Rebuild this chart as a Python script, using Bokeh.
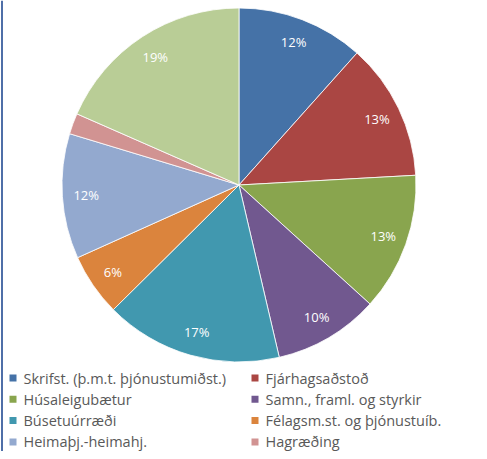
import numpy as np
from bokeh.plotting import figure
from bokeh.models import Range1d, ColumnDataSource
from bokeh.embed import file_html
from bokeh.resources import INLINE
from bokeh.core.properties import value

# ---- data (shares in %, clockwise from 12 o'clock) ----
categories = [
    "Skrifst. (þ.m.t. þjónustumiðst.)",
    "Fjárhagsaðstoð",
    "Húsaleigubætur",
    "Samn., framl. og styrkir",
    "Búsetuúrræði",
    "Félagsm.st. og þjónustuíb.",
    "Heimaþj.-heimahj.",
    "Hagræðing",
    "Annað",
]
shares = [11.6, 12.5, 12.6, 9.6, 16.2, 5.7, 11.4, 1.9, 18.4]
pct_labels = ["12%", "13%", "13%", "10%", "17%", "6%", "12%", "", "19%"]
colors = ["#4572A7", "#AA4643", "#89A54E", "#71588F", "#4198AF",
          "#DB843D", "#93A9CF", "#D19392", "#B9CD96"]
legend_count = 8  # last slice has no visible legend entry

# ---- layout constants (pixels) ----
PW, PH = 479, 451
CX, CY, R = 238.5, 184.5, 177.0
LABEL_R = 0.865 * R

def Y(py):
    return PH - py

p = figure(width=PW, height=PH, output_backend="svg",
           toolbar_location=None,
           x_range=Range1d(0, PW), y_range=Range1d(0, PH),
           x_axis_type=None, y_axis_type=None, min_border=0,
           outline_line_color=None, background_fill_color="white",
           border_fill_color="white")
p.grid.visible = False

vals = np.array(shares, dtype=float)
frac = vals / vals.sum()
cum_after = np.cumsum(frac)
cum_before = cum_after - frac
start = np.pi / 2 - 2 * np.pi * cum_after
end = np.pi / 2 - 2 * np.pi * cum_before
mid = (start + end) / 2

src = ColumnDataSource(dict(
    x=[CX] * len(vals), y=[Y(CY)] * len(vals),
    start=start, end=end, color=colors,
    lx=CX + LABEL_R * np.cos(mid), ly=Y(CY) + LABEL_R * np.sin(mid),
    label=pct_labels,
))
p.wedge(x="x", y="y", radius=R, start_angle="start", end_angle="end",
        direction="anticlock", fill_color="color", line_color="white",
        line_width=1, line_alpha=0.8, source=src)
p.text(x="lx", y="ly", text="label", text_align="center",
       text_baseline="middle", text_color="white",
       text_font=value("Open Sans"), text_font_size="13px", source=src)

# ---- legend (2 columns x 4 rows) ----
col_x = [9, 251]
row0, row_step = 377.5, 21.3
sq = 7
lx, ly, lt, lc = [], [], [], []
for i in range(legend_count):
    c, r = i % 2, i // 2
    lx.append(col_x[c])
    ly.append(Y(row0 + r * row_step))
    lt.append(categories[i])
    lc.append(colors[i])
lsrc = ColumnDataSource(dict(x=lx, y=ly, text=lt, color=lc,
                             sx=[v + sq / 2 for v in lx],
                             tx=[v + 14 for v in lx]))
p.rect(x="sx", y="y", width=sq, height=sq, fill_color="color",
       line_color=None, source=lsrc)
p.text(x="tx", y="y", text="text", text_align="left", text_baseline="middle",
       text_color="#595959", text_font=value("Open Sans"),
       text_font_size="14.5px", source=lsrc)

# ---- frame line on the left ----
p.line(x=[1.5, 1.5], y=[0, PH], line_color="#4F6FA8", line_width=2)

open("out.html", "w").write(file_html(p, INLINE))
